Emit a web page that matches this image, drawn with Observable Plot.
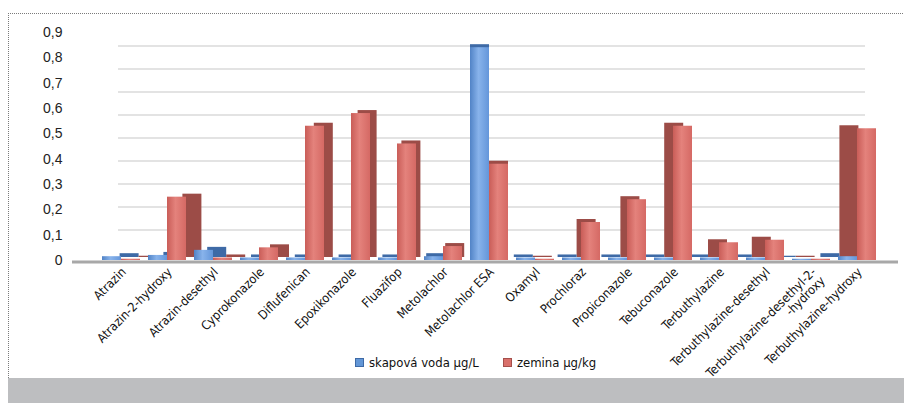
<!DOCTYPE html>
<html>
<head>
<meta charset="utf-8">
<script src="https://cdn.jsdelivr.net/npm/d3@7"></script>
<script src="https://cdn.jsdelivr.net/npm/@observablehq/plot@0.6"></script>
<style>
  body { margin: 0; background: #fff; }
  #wrap { position: relative; width: 904px; height: 403px; overflow: hidden; }
  #frame { position: absolute; left: 8px; top: 13px; width: 910px; height: 364px;
           border-left: 1px dotted #7a7a7a; border-top: 1px dotted #7a7a7a; }
  #band { position: absolute; left: 8px; top: 378px; width: 896px; height: 25px; background: #bdbec0; }
  #chart { position: absolute; left: 0; top: 0; }
  #legend { position: absolute; top: 355px; left: 355px; display: flex; align-items: center;
            font: 13px "Liberation Sans Narrow", "DejaVu Sans Condensed", sans-serif; color: #111; }
  #legend .item { display: flex; align-items: center; margin-right: 24px; }
  #legend .sw { width: 7px; height: 7px; margin-right: 5px; border: 1px solid; }
</style>
</head>
<body>
<div id="wrap">
  <div id="frame"></div>
  <div id="chart"></div>
  <div id="legend"></div>
  <div id="band"></div>
</div>
<script>
// Pesticide residues: drainage water (µg/L) vs. soil (µg/kg)
const categories = [
  "Atrazin", "Atrazin-2-hydroxy", "Atrazin-desethyl", "Cyprokonazole", "Diflufenican",
  "Epoxikonazole", "Fluazifop", "Metolachlor", "Metolachlor ESA", "Oxamyl", "Prochloraz",
  "Propiconazole", "Tebuconazole", "Terbuthylazine", "Terbuthylazine-desethyl",
  "Terbuthylazine-desethyl-2-\n-hydroxy", "Terbuthylazine-hydroxy"
];
const seriesNames = ["skapová voda µg/L", "zemina µg/kg"];
const skapovaVoda = [0.015, 0.02, 0.04, 0.01, 0.01, 0.01, 0.01, 0.015, 0.84, 0.01, 0.01, 0.01, 0.01, 0.01, 0.01, 0.005, 0.015];
const zemina      = [0.005, 0.25, 0.01, 0.05, 0.53, 0.58, 0.46, 0.055, 0.38, 0.005, 0.15, 0.24, 0.53, 0.07, 0.08, 0.005, 0.52];
const yTicks = [0, 0.1, 0.2, 0.3, 0.4, 0.5, 0.6, 0.7, 0.8, 0.9];
const yTickLabels = ["0", "0,1", "0,2", "0,3", "0,4", "0,5", "0,6", "0,7", "0,8", "0,9"];

const frontFill = ["url(#front0)", "url(#front1)"];
const sideFill = ["#3e6aa6", "#9c4c47"];
const swatch = [["#6296d6", "#3e6aa6"], ["#d9706b", "#a54f4b"]];

const rows = categories.flatMap((c, i) => [
  {cat: c, i, s: 0, value: skapovaVoda[i]},
  {cat: c, i, s: 1, value: zemina[i]}
]);

// Perspective: the viewpoint is above the middle category, so side faces
// open outwards and grow with the distance from the centre.
const mid = (categories.length - 1) / 2;
const sideStep = 2.2;
const halfBand = 19;
// back wall lies deeper than the front of the floor, so its gridlines are foreshortened
const wall = v => 0.03 + 0.908 * v;

function barMarks(i) {
  const shift = (mid - i) * sideStep;
  const order = i <= mid ? [0, 1] : [1, 0];
  return order.flatMap(s => {
    const d = rows.filter(r => r.i === i && r.s === s);
    const inset = s === 0 ? {insetRight: halfBand} : {insetLeft: halfBand};
    return [
      Plot.barY(d, {x: "cat", y: "value", fill: sideFill[s], dx: shift, dy: -3, ...inset}),
      Plot.barY(d, {x: "cat", y: "value", fill: frontFill[s], ...inset})
    ];
  });
}
// painter's order: outer categories first, the centre last
const drawOrder = [...d3.range(0, mid + 1), ...d3.range(categories.length - 1, mid, -1)];

const svg = Plot.plot({
  width: 904,
  height: 360,
  marginTop: 32,
  marginBottom: 100,
  marginLeft: 94,
  marginRight: 20,
  style: {background: "transparent", overflow: "visible"},
  x: {domain: categories, paddingInner: 0.18, paddingOuter: 0.09, axis: null},
  y: {domain: [0, 0.9], axis: null},
  marks: [
    Plot.ruleY(yTicks.slice(1), {y: d => wall(d), stroke: "#e3e3e3", strokeWidth: 2, insetLeft: 24, insetRight: 19}),
    Plot.ruleY([0], {stroke: "#a8a8a8", strokeWidth: 3, dy: 1.5, insetLeft: -22, insetRight: -14}),
    ...drawOrder.flatMap(barMarks),
    Plot.axisY(yTicks, {
      label: null, tickSize: 0, tickPadding: 32, fontSize: 14, fill: "#222",
      fontFamily: "'Liberation Sans', Arial, sans-serif",
      tickFormat: d => yTickLabels[yTicks.indexOf(d)]
    }),
    Plot.text(categories, {
      x: d => d, frameAnchor: "bottom", text: d => d,
      rotate: -45, textAnchor: "end", lineAnchor: "top", dx: -1, dy: 6,
      fontSize: 12.5, fill: "#111",
      fontFamily: "'Liberation Sans Narrow', 'DejaVu Sans Condensed', sans-serif"
    })
  ]
});

const ns = "http://www.w3.org/2000/svg";
const defs = document.createElementNS(ns, "defs");
defs.innerHTML = `
  <linearGradient id="front0" x1="0" x2="1" y1="0" y2="0">
    <stop offset="0" stop-color="#5183c6"/><stop offset="0.45" stop-color="#88b3eb"/><stop offset="1" stop-color="#6496da"/>
  </linearGradient>
  <linearGradient id="front1" x1="0" x2="1" y1="0" y2="0">
    <stop offset="0" stop-color="#c95d58"/><stop offset="0.45" stop-color="#e4827c"/><stop offset="1" stop-color="#d56964"/>
  </linearGradient>`;
svg.prepend(defs);
document.getElementById("chart").appendChild(svg);

const legend = d3.select("#legend");
seriesNames.forEach((name, s) => {
  const item = legend.append("div").attr("class", "item");
  item.append("div").attr("class", "sw")
    .style("background", swatch[s][0]).style("border-color", swatch[s][1]);
  item.append("span").text(name);
});
</script>
</body>
</html>
